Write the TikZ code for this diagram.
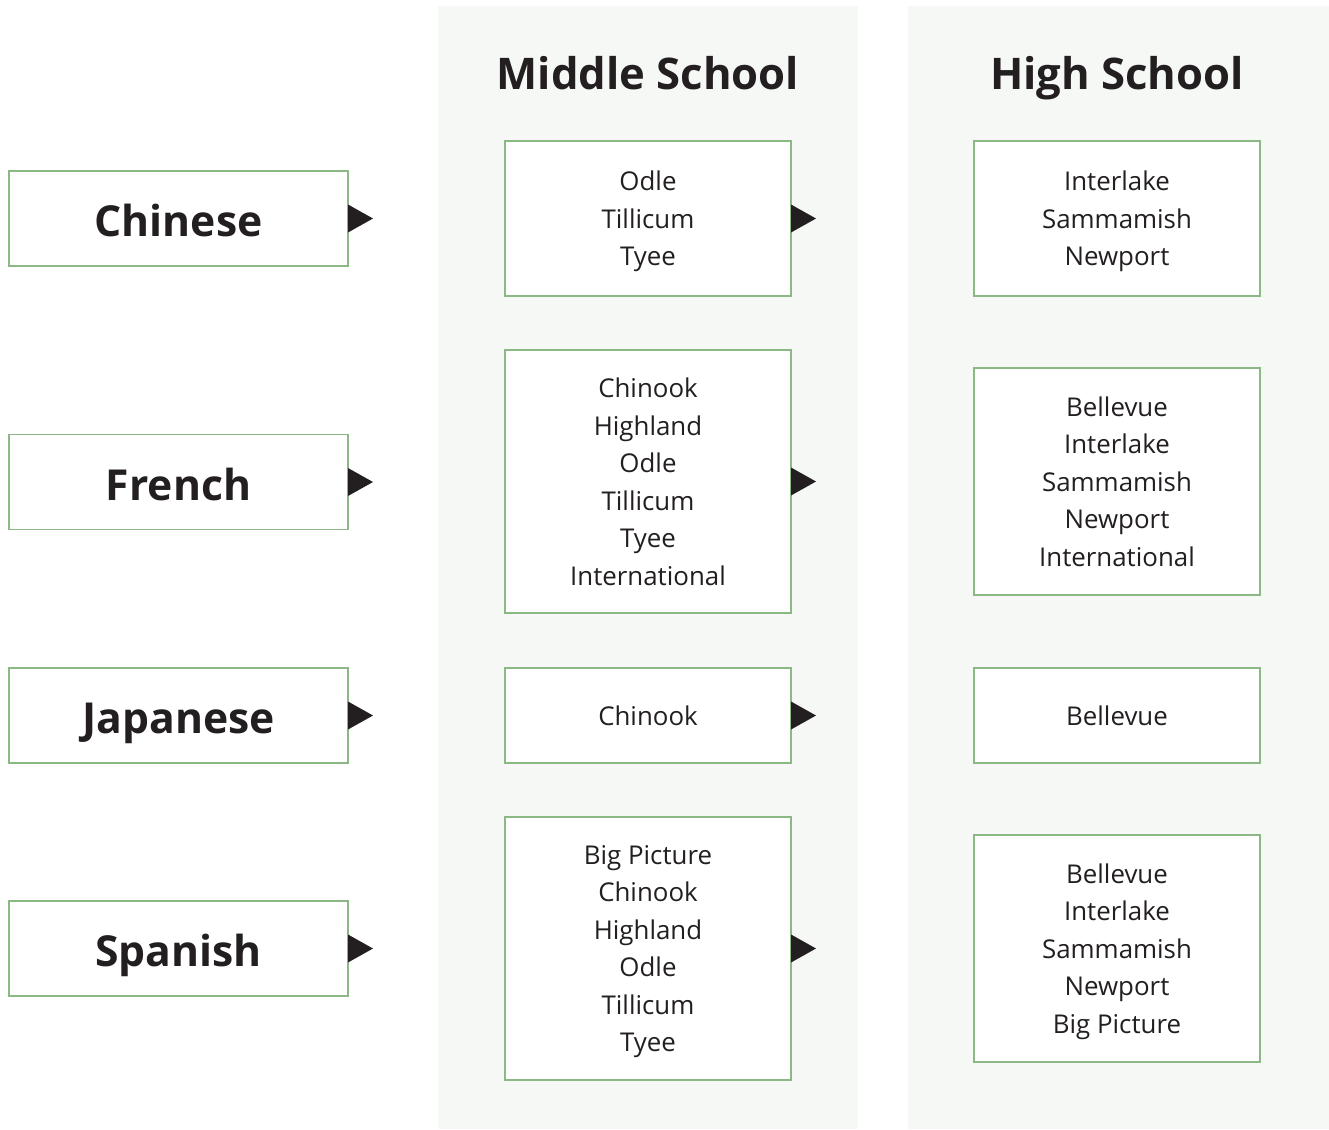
\documentclass[tikz,border=0pt]{standalone}
\usepackage{fontspec}
\setmainfont{Open Sans}
\usetikzlibrary{positioning}
\definecolor{boxgreen}{RGB}{140,184,134}
\definecolor{panelgray}{RGB}{246,248,245}
\definecolor{tipgray}{RGB}{35,31,32}
\tikzset{
langbox/.style={
  draw=boxgreen,
  line width=1pt,
  fill=white,
  minimum width=254.25pt,
  minimum height=71.25pt,
  inner sep=0pt,
  outer sep=0pt,
  text height=27pt,
  text depth=0pt,
  font=\fontsize{32}{38}\selectfont\bfseries,
  text=tipgray
  },
schoolbox/.style={
  draw=boxgreen,
  line width=1pt,
  fill=white,
  minimum width=214.5pt,
  inner sep=0pt,
  outer sep=0pt,
  align=center,
  text depth=0pt,
  font=\fontsize{19.4}{28.1}\selectfont,
  text=tipgray
  },
heading/.style={
  anchor=base,
  font=\fontsize{32.7}{38}\selectfont\bfseries,
  text=tipgray
  }
}

\begin{document}
\begin{tikzpicture}[x=0.75pt,y=-0.75pt]
\useasboundingbox (0,0) rectangle (1329,1129);

% panels
\fill[panelgray] (438,6) rectangle (858,1129);
\fill[panelgray] (908,6) rectangle (1329,1129);

\node[heading] (msHead) at (648,89) {Middle School};
\node[heading] (hsHead) at (1117,89) {High School};

% languages
\node[langbox] (lang1) at (178.5,218.5) {Chinese};
\node[langbox] (lang2) at (178.5,482)   {French};
\node[langbox] (lang3) at (178.5,715.5) {Japanese};
\node[langbox] (lang4) at (178.5,948.5) {Spanish};

% middle schools
\node[schoolbox,minimum height=116.25pt] (ms1) at (648,218.5)
  {Odle\\Tillicum\\Tyee};
\node[schoolbox,minimum height=197.25pt] (ms2) at (648,481.5)
  {Chinook\\Highland\\Odle\\Tillicum\\Tyee\\International};
\node[schoolbox,minimum height=71.25pt] (ms3) at (648,715.5)
  {Chinook};
\node[schoolbox,minimum height=197.25pt] (ms4) at (648,948.5)
  {Big Picture\\Chinook\\Highland\\Odle\\Tillicum\\Tyee};

% high schools
\node[schoolbox,minimum height=116.25pt] (hs1) at (1117,218.5)
  {Interlake\\Sammamish\\Newport};
\node[schoolbox,minimum height=170.25pt] (hs2) at (1117,481.5)
  {Bellevue\\Interlake\\Sammamish\\Newport\\International};
\node[schoolbox,minimum height=71.25pt] (hs3) at (1117,715.5)
  {Bellevue};
\node[schoolbox,minimum height=170.25pt] (hs4) at (1117,948.5)
  {Bellevue\\Interlake\\Sammamish\\Newport\\Big Picture};

% pointers
\foreach \n in {lang1,lang2,lang3,lang4,ms1,ms2,ms3,ms4}
  \fill[tipgray] (\n.east) -- ++(0,-14) -- ++(25,14) -- ++(-25,14) -- cycle;
\end{tikzpicture}
\end{document}
